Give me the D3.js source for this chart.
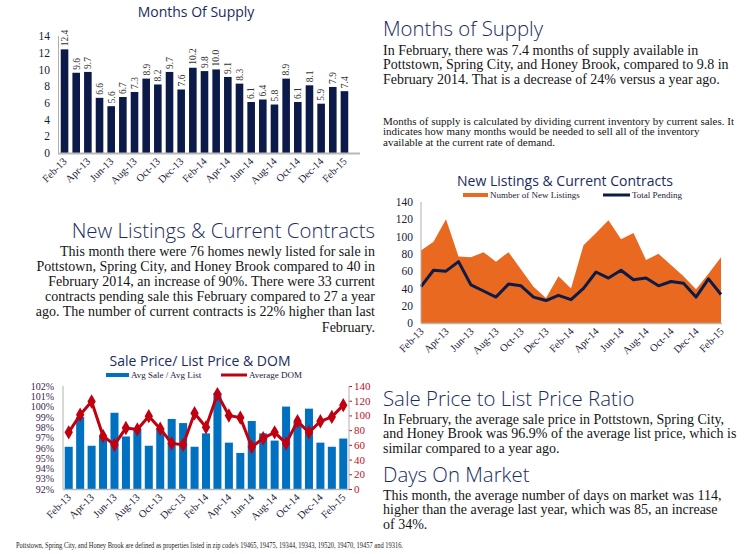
<!DOCTYPE html>
<html><head><meta charset="utf-8">
<script src="https://cdn.jsdelivr.net/npm/d3@7"></script>
<style>body{margin:0;background:#fff}svg{display:block}</style>
</head><body><svg id="c" width="750" height="554"></svg>
<script>
const months = ["Feb-13","Mar-13","Apr-13","May-13","Jun-13","Jul-13","Aug-13","Sep-13","Oct-13","Nov-13","Dec-13","Jan-14",
  "Feb-14","Mar-14","Apr-14","May-14","Jun-14","Jul-14","Aug-14","Sep-14","Oct-14","Nov-14","Dec-14","Jan-15","Feb-15"];
const tickMonths = ["Feb-13","Apr-13","Jun-13","Aug-13","Oct-13","Dec-13","Feb-14","Apr-14","Jun-14","Aug-14","Oct-14","Dec-14","Feb-15"];
const supply = [12.4,9.6,9.7,6.6,5.6,6.7,7.3,8.9,8.2,9.7,7.6,10.2,9.8,10.0,9.1,8.3,6.1,6.4,5.8,8.9,6.1,8.1,5.9,7.9,7.4];
const supplyTicks = [0,2,4,6,8,10,12,14];
const newListings = [84,94,120,77,76,82,71,82,62,42,29,54,40,90,104,119,97,104,73,80,67,54,39,57,76];
const totalPending = [42,61,60,71,44,37,30,45,43,30,26,32,27,40,59,52,61,50,52,43,48,46,30,51,33];
const listingTicks = [0,20,40,60,80,100,120,140];
const salePct = [96.1,99.0,96.2,97.1,99.4,97.1,97.7,96.2,97.9,98.8,98.4,96.1,97.4,101.3,96.5,95.5,98.6,97.4,96.7,100.0,98.5,99.8,96.5,96.1,96.9];
const domDays = [77,101,119,72,60,83,81,99,82,62,60,103,84,129,100,97,57,69,77,62,92,77,92,98,114];
const pctTicks = [92,93,94,95,96,97,98,99,100,101,102];
const domTicks = [0,20,40,60,80,100,120,140];

const svg = d3.select("#c");
const SERIF = "'Liberation Serif','Times New Roman',serif";
const SANS = "'Open Sans',Lato,'Noto Sans',sans-serif";
const NAVY = "#1c2b5e";

function styleAxis(g, color, size){
  g.select(".domain").remove();
  g.selectAll("text").attr("font-family", SERIF).attr("font-size", size).attr("fill", color);
}
function xLabels(g, dx, dy){
  g.select(".domain").remove();
  g.selectAll("line").remove();
  g.selectAll("text").attr("font-family", SERIF).attr("font-size", 10.5).attr("fill", "#1a1a3a")
    .attr("y", 0).attr("dy", 0).attr("text-anchor", "end")
    .attr("transform", `translate(${dx},${dy}) rotate(-45)`);
}
function title(txt, xx, yy){
  svg.append("text").attr("x", xx).attr("y", yy).attr("text-anchor", "middle")
    .attr("font-family", SANS).attr("font-weight", 400).attr("font-size", 14).attr("fill", NAVY).text(txt);
}

// ---------- Chart 1: Months of supply ----------
{
  const x = d3.scaleBand().domain(months).range([59, 350]).paddingInner(0.35).paddingOuter(0.15);
  const y = d3.scaleLinear().domain([0, 14]).range([153, 36]);
  title("Months Of Supply", 196, 17);
  svg.append("g").attr("transform", "translate(58,0)")
    .call(d3.axisLeft(y).tickValues(supplyTicks).tickSize(0).tickPadding(8))
    .call(g => styleAxis(g, "#1a1a3a", 11.5));
  svg.append("line").attr("x1", 58.5).attr("x2", 58.5).attr("y1", 36).attr("y2", 153).attr("stroke", "#b0b0b0");
  svg.append("g").selectAll("rect").data(supply).join("rect")
    .attr("x", (d, i) => x(months[i])).attr("width", x.bandwidth())
    .attr("y", d => y(d)).attr("height", d => y(0) - y(d)).attr("fill", "#0b1a48");
  svg.append("g").selectAll("text").data(supply).join("text")
    .attr("transform", (d, i) => `translate(${x(months[i]) + x.bandwidth() / 2},${y(d) - 3}) rotate(-90)`)
    .attr("dy", "0.35em").attr("font-family", SERIF).attr("font-size", 9.5).attr("fill", "#333")
    .text(d => d.toFixed(1));
  svg.append("line").attr("x1", 58).attr("x2", 360).attr("y1", 153.5).attr("y2", 153.5)
    .attr("stroke", "#b8b8b8").attr("stroke-width", 2);
  svg.append("g").attr("transform", "translate(0,153)")
    .call(d3.axisBottom(x).tickValues(tickMonths).tickSize(0))
    .call(g => xLabels(g, 3, 9));
}

// ---------- Chart 2: New listings & current contracts ----------
{
  const x = d3.scalePoint().domain(months).range([421, 721]);
  const y = d3.scaleLinear().domain([0, 140]).range([323, 202]);
  title("New Listings & Current Contracts", 565, 186);
  svg.append("rect").attr("x", 463).attr("y", 193).attr("width", 25).attr("height", 4).attr("fill", "#e8691f");
  svg.append("text").attr("x", 490).attr("y", 198).attr("font-family", SERIF).attr("font-size", 9)
    .attr("fill", "#1a1a3a").text("Number of New Listings");
  svg.append("line").attr("x1", 603).attr("x2", 630).attr("y1", 195).attr("y2", 195)
    .attr("stroke", "#0d1b45").attr("stroke-width", 3);
  svg.append("text").attr("x", 632).attr("y", 198).attr("font-family", SERIF).attr("font-size", 9)
    .attr("fill", "#1a1a3a").text("Total Pending");

  svg.append("path").datum(newListings)
    .attr("d", d3.area().x((d, i) => x(months[i])).y0(y(0)).y1(d => y(d)))
    .attr("fill", "#e8691f");
  svg.append("path").datum(totalPending)
    .attr("d", d3.line().x((d, i) => x(months[i])).y(d => y(d)))
    .attr("fill", "none").attr("stroke", "#0d1b45").attr("stroke-width", 3).attr("stroke-linejoin", "round");
  svg.append("g").attr("transform", "translate(421,0)")
    .call(d3.axisLeft(y).tickValues(listingTicks).tickSize(0).tickPadding(8))
    .call(g => styleAxis(g, "#1a1a3a", 11.5));
  svg.append("line").attr("x1", 421).attr("x2", 421).attr("y1", 202).attr("y2", 323).attr("stroke", "#b0b0b0");
  svg.append("line").attr("x1", 421).attr("x2", 722).attr("y1", 323.5).attr("y2", 323.5)
    .attr("stroke", "#b8b8b8").attr("stroke-width", 1.5);
  svg.append("g").attr("transform", "translate(0,323)")
    .call(d3.axisBottom(x).tickValues(tickMonths).tickSize(0))
    .call(g => xLabels(g, 3, 9));
}

// ---------- Chart 3: Sale price / list price & DOM ----------
{
  const x = d3.scaleBand().domain(months).range([63, 349]).paddingInner(0.3).paddingOuter(0.15);
  const yL = d3.scaleLinear().domain([92, 102]).range([489, 386]);
  const yR = d3.scaleLinear().domain([0, 140]).range([489, 386]);
  title("Sale Price/ List Price & DOM", 200, 366);
  svg.append("rect").attr("x", 106).attr("y", 373).attr("width", 23).attr("height", 4).attr("fill", "#0070c0");
  svg.append("text").attr("x", 131).attr("y", 378).attr("font-family", SERIF).attr("font-size", 9)
    .attr("fill", "#1a1a3a").text("Avg Sale / Avg List");
  svg.append("line").attr("x1", 221).attr("x2", 247).attr("y1", 375).attr("y2", 375)
    .attr("stroke", "#c00010").attr("stroke-width", 3);
  svg.append("text").attr("x", 249).attr("y", 378).attr("font-family", SERIF).attr("font-size", 9)
    .attr("fill", "#1a1a3a").text("Average DOM");

  svg.append("g").selectAll("rect").data(salePct).join("rect")
    .attr("x", (d, i) => x(months[i])).attr("width", x.bandwidth())
    .attr("y", d => yL(d)).attr("height", d => yL(92) - yL(d)).attr("fill", "#0070c0");
  const cx = (i) => x(months[i]) + x.bandwidth() / 2;
  svg.append("path").datum(domDays)
    .attr("d", d3.line().x((d, i) => cx(i)).y(d => yR(d)))
    .attr("fill", "none").attr("stroke", "#c00010").attr("stroke-width", 3).attr("stroke-linejoin", "round");
  svg.append("g").selectAll("path").data(domDays).join("path")
    .attr("transform", (d, i) => `translate(${cx(i)},${yR(d)})`)
    .attr("d", d3.symbol(d3.symbolDiamond, 60)).attr("fill", "#c00010");
  svg.append("g").attr("transform", "translate(63,0)")
    .call(d3.axisLeft(yL).tickValues(pctTicks).tickSize(0).tickPadding(9).tickFormat(d => d + "%"))
    .call(g => styleAxis(g, "#3a1d50", 10));
  svg.append("g").attr("transform", "translate(349,0)")
    .call(d3.axisRight(yR).tickValues(domTicks).tickSize(3).tickPadding(2))
    .call(g => { styleAxis(g, "#c0102a", 11); g.selectAll("line").attr("stroke", "#c0102a"); });
  svg.append("line").attr("x1", 63).attr("x2", 63).attr("y1", 386).attr("y2", 489).attr("stroke", "#b0b0b0");
  svg.append("line").attr("x1", 349).attr("x2", 349).attr("y1", 386).attr("y2", 489).attr("stroke", "#b0b0b0");
  svg.append("line").attr("x1", 63).attr("x2", 349).attr("y1", 489.5).attr("y2", 489.5)
    .attr("stroke", "#b8b8b8").attr("stroke-width", 1.5);
  svg.append("g").attr("transform", "translate(0,489)")
    .call(d3.axisBottom(x).tickValues(tickMonths).tickSize(0))
    .call(g => xLabels(g, 3, 9));
}

// ---------- Text blocks ----------
function heading(txt, xx, yy, anchor){
  svg.append("text").attr("x", xx).attr("y", yy).attr("text-anchor", anchor || "start")
    .attr("font-family", SANS).attr("font-weight", 300).attr("font-size", 20.4).attr("fill", NAVY).text(txt);
}
function para(lines, xx, y0, dy, size, anchor){
  svg.append("g").selectAll("text").data(lines).join("text")
    .attr("x", xx).attr("y", (d, i) => y0 + i * dy).attr("text-anchor", anchor || "start")
    .attr("font-family", SERIF).attr("font-size", size).attr("fill", "#141414").text(d => d);
}
heading("Months of Supply", 383, 36);
para(["In February, there was 7.4 months of supply available in",
      "Pottstown, Spring City, and Honey Brook, compared to 9.8 in",
      "February 2014. That is a decrease of 24% versus a year ago."], 383, 54.5, 14.5, 14);
para(["Months of supply is calculated by dividing current inventory by current sales. It",
      "indicates how many months would be needed to sell all of the inventory",
      "available at the current rate of demand."], 383, 124.5, 10.6, 11);
heading("New Listings & Current Contracts", 375, 238, "end");
para(["This month there were 76 homes newly listed for sale in",
      "Pottstown, Spring City, and Honey Brook compared to 40 in",
      "February 2014, an increase of 90%. There were 33 current",
      "contracts pending sale this February compared to 27 a year",
      "ago. The number of current contracts is 22% higher than last",
      "February."], 375, 255.5, 15.2, 14, "end");
heading("Sale Price to List Price Ratio", 383, 406);
para(["In February, the average sale price in Pottstown, Spring City,",
      "and Honey Brook was 96.9% of the average list price, which is",
      "similar compared to a year ago."], 383, 423.5, 14.5, 14);
heading("Days On Market", 383, 482);
para(["This month, the average number of days on market was 114,",
      "higher than the average last year, which was 85, an increase",
      "of 34%."], 383, 499.5, 14.5, 14);
svg.append("text").attr("x", 16).attr("y", 547.5).attr("font-family", SERIF).attr("font-size", 8)
  .attr("textLength", 387).attr("lengthAdjust", "spacingAndGlyphs").attr("fill", "#222")
  .text("Pottstown, Spring City, and Honey Brook are defined as properties listed in zip code/s 19465, 19475, 19344, 19343, 19520, 19470, 19457 and 19316.");
</script></body></html>
